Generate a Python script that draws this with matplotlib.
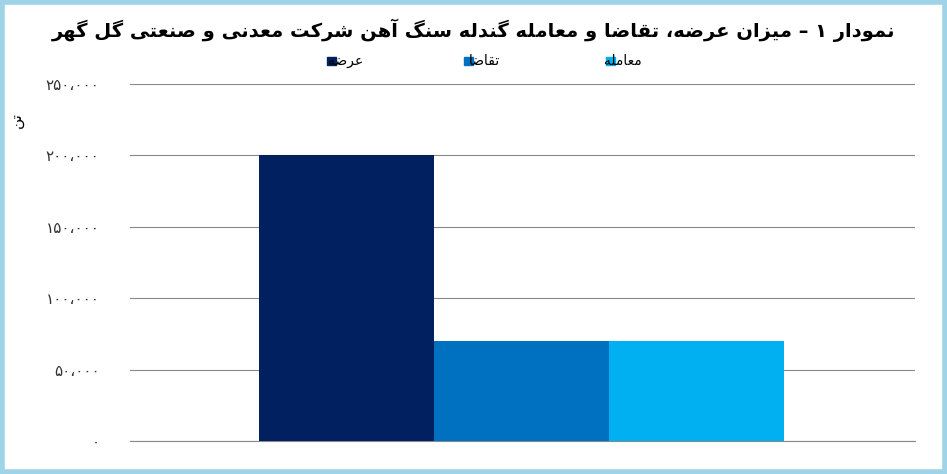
import matplotlib.pyplot as plt
from matplotlib.patches import Rectangle

plt.rcParams['font.family'] = ['DejaVu Sans']

# isolated, final, initial, medial
FORMS = {
    'ا': (0xFE8D, 0xFE8E, None, None), 'آ': (0xFE81, 0xFE82, None, None),
    'د': (0xFEA9, 0xFEAA, None, None), 'ر': (0xFEAD, 0xFEAE, None, None),
    'ز': (0xFEAF, 0xFEB0, None, None), 'و': (0xFEED, 0xFEEE, None, None),
    'ت': (0xFE95, 0xFE96, 0xFE97, 0xFE98), 'س': (0xFEB1, 0xFEB2, 0xFEB3, 0xFEB4),
    'ش': (0xFEB5, 0xFEB6, 0xFEB7, 0xFEB8), 'ص': (0xFEB9, 0xFEBA, 0xFEBB, 0xFEBC),
    'ض': (0xFEBD, 0xFEBE, 0xFEBF, 0xFEC0), 'ع': (0xFEC9, 0xFECA, 0xFECB, 0xFECC),
    'ق': (0xFED5, 0xFED6, 0xFED7, 0xFED8), 'ل': (0xFEDD, 0xFEDE, 0xFEDF, 0xFEE0),
    'م': (0xFEE1, 0xFEE2, 0xFEE3, 0xFEE4), 'ن': (0xFEE5, 0xFEE6, 0xFEE7, 0xFEE8),
    'ه': (0xFEE9, 0xFEEA, 0xFEEB, 0xFEEC), 'ی': (0xFBFC, 0xFBFD, 0xFBFE, 0xFBFF),
    'ک': (0xFB8E, 0xFB8F, 0xFB90, 0xFB91), 'گ': (0xFB92, 0xFB93, 0xFB94, 0xFB95),
}


def shape(text):
    out = []
    for i, c in enumerate(text):
        if c not in FORMS:
            out.append(c)
            continue
        prev = text[i - 1] if i > 0 else ''
        nxt = text[i + 1] if i + 1 < len(text) else ''
        jp = prev in FORMS and FORMS[prev][2] is not None
        jn = FORMS[c][2] is not None and nxt in FORMS
        f = FORMS[c]
        code = f[3] if jp and jn else f[1] if jp else f[2] if jn else f[0]
        out.append(chr(code))
    return ''.join(out)[::-1]


def fa_num(v):
    s = f'{v:,}'.replace(',', '،')
    return s.translate(str.maketrans('0123456789', '۰۱۲۳۴۵۶۷۸۹'))


series = ['عرضه', 'تقاضا', 'معامله']
values = [200000, 70000, 70000]
colors = ['#002060', '#0070c0', '#00b0f0']
yticks = [0, 50000, 100000, 150000, 200000, 250000]
title = 'نمودار ۱ – میزان عرضه، تقاضا و معامله گندله سنگ آهن شرکت معدنی و صنعتی گل گهر'

fig = plt.figure(figsize=(9.47, 4.74), dpi=100)
fig.patches.append(Rectangle((0.002, 0.004), 0.996, 0.992, transform=fig.transFigure,
                             fill=False, edgecolor='#9fd3e8', linewidth=4))
ax = fig.add_axes([130 / 947, 33 / 474, 785 / 947, 357 / 474])

for i, (s, v, c) in enumerate(zip(series, values, colors)):
    ax.bar(i, v, width=1.0, color=c, zorder=3)

ax.set_xlim(-1.24, 3.25)
ax.set_ylim(0, 250000)
ax.set_yticks(yticks)
ax.set_yticklabels([fa_num(t) for t in yticks], fontsize=11, color='#333333')
ax.yaxis.grid(True, color='#888888', linewidth=0.8, zorder=0)
ax.tick_params(axis='y', length=0, pad=22)
ax.set_xticks([])
for sp in ['top', 'right', 'left']:
    ax.spines[sp].set_visible(False)
ax.spines['bottom'].set_color('#888888')
ax.set_ylabel(shape('تن'), fontsize=11, rotation=90, labelpad=6)
ax.yaxis.set_label_coords(-0.135, 0.9)

fig.text(0.5, 0.935, shape(title), ha='center', va='center', fontsize=14, fontweight='bold')

leg_x = [363 / 947, 500 / 947, 642 / 947]
for s, c, x in zip(series, colors, leg_x):
    fig.patches.append(Rectangle((x - 0.038, 0.862), 0.009, 0.018,
                                 transform=fig.transFigure, color=c))
    fig.text(x, 0.871, shape(s), ha='right', va='center', fontsize=10)

fig.savefig('out.png', dpi=100)
